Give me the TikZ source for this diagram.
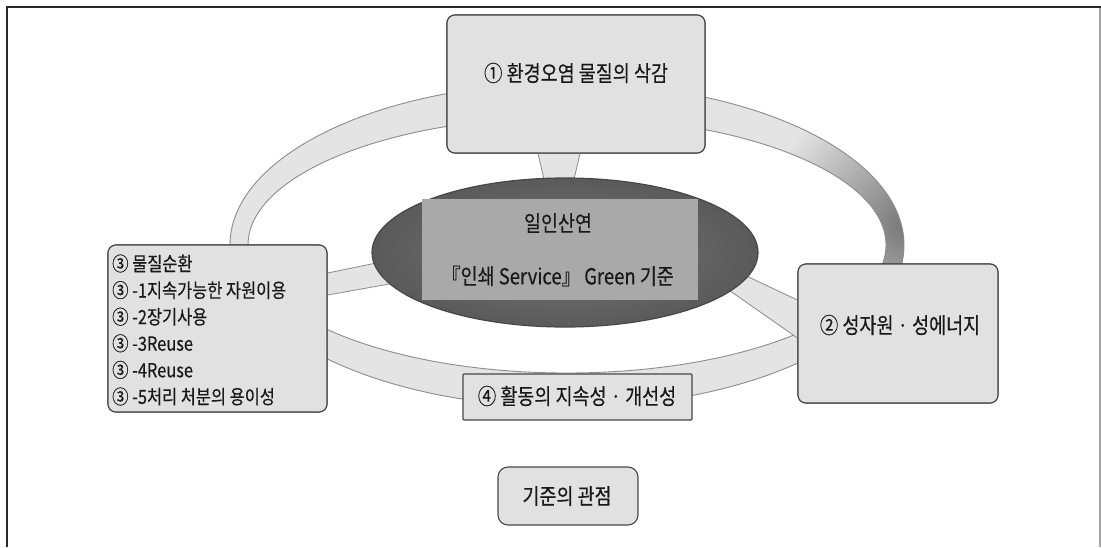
\documentclass[tikz,border=0pt]{standalone}
\usepackage{fontspec}
\newfontfamily\kr[FakeStretch=0.84,FakeBold=0.3]{Noto Sans CJK KR}
\usetikzlibrary{shapes.geometric,calc}
\definecolor{boxfill}{HTML}{E1E1E1}
\definecolor{ringfill}{HTML}{E4E4E4}
\definecolor{ringdark}{HTML}{777777}
\definecolor{ringedge}{HTML}{8C8C8C}
\definecolor{ellfill}{HTML}{5A5A5A}
\definecolor{ellfill2}{HTML}{767676}
\definecolor{midrect}{HTML}{A9A9A9}
\definecolor{framecol}{HTML}{2A2A2A}
\begin{document}
\begin{tikzpicture}[x=1pt,y=-1pt,
  box/.style={draw=black!72, line width=1.1pt, fill=boxfill, rounded corners=8pt, inner sep=0pt},
  lbl/.style={font=\kr\fontsize{22}{26}\selectfont, text=black!90, inner sep=0pt},
  small/.style={font=\kr\fontsize{19.5}{26.6}\selectfont, text=black!90, inner sep=0pt},
  spoke/.style={fill=ringfill, draw=ringedge, line width=0.8pt},
]
\useasboundingbox (0,0) rectangle (1101,547);
\fill[white] (0,0) rectangle (1101,547);
% frame
\draw[framecol, line width=2pt] (7,547) -- (7,7) -- (1101,7);
\draw[black!35, line width=1.5pt] (1100,8) -- (1100,547);

% ring
\fill[ringfill] (567,245) ellipse [x radius=337, y radius=162];
\begin{scope}
  \clip (567,245) ellipse [x radius=337, y radius=162];
  \shade[inner color=ringdark, outer color=ringfill] (905,225) circle (140);
\end{scope}
\fill[white] (567,245) ellipse [x radius=319, y radius=128];
\draw[ringedge, line width=0.9pt] (567,245) ellipse [x radius=337, y radius=162];
\draw[ringedge, line width=0.9pt] (567,245) ellipse [x radius=319, y radius=128];

% nodes (shapes)
\node[ellipse, minimum width=386, minimum height=149, inner sep=0pt] (ell) at (565,252.5) {};
\node[box, minimum width=258, minimum height=138] (b1) at (576,84) {};
\node[box, minimum width=219, minimum height=167] (b3) at (217.5,328.5) {};
\node[box, minimum width=200, minimum height=139] (b2) at (898,333.5) {};

% spokes
\path[spoke] ($(b1.south)+(-38,0)$) -- ($(b1.south)+(4,0)$) -- ($(ell.north)+(7,10)$) -- ($(ell.north)+(-19,10)$) -- cycle;
\path[spoke] ($(b3.east)+(0,-55.5)$) -- ($(b3.east)+(73,-70.5)$) -- ($(b3.east)+(73,-46.5)$) -- ($(b3.east)+(0,-33.5)$) -- cycle;
\path[spoke] ($(b2.west)+(-68,-65.5)$) -- ($(b2.west)+(0,-33.5)$) -- ($(b2.west)+(0,4.5)$) -- ($(b2.west)+(-83,-53.5)$) -- cycle;

% central ellipse
\shade[inner color=ellfill2, outer color=ellfill] (ell.center) ellipse [x radius=193, y radius=74.5];
\draw[black!72, line width=1.2pt] (ell.center) ellipse [x radius=193, y radius=74.5];
\node[fill=midrect, minimum width=276, minimum height=101, inner sep=0pt] (mid) at (560,249.5) {};
\node[lbl] (t0a) at (558,223) {일인산연};
\node[lbl] (t0b) at (558,276) {『인쇄 Service』 Green 기준};

% boxes on top
\node[box, minimum width=258, minimum height=138] at (b1.center) {};
\node[lbl] (t1) at (576,73) {① 환경오염 물질의 삭감};

\node[box, minimum width=219, minimum height=167] at (b3.center) {};
\node[small, align=left, anchor=west] (t3) at (112,330) {③ 물질순환\\③ -1지속가능한 자원이용\\③ -2장기사용\\③ -3Reuse\\③ -4Reuse\\③ -5처리 처분의 용이성};

\node[box, minimum width=200, minimum height=139] at (b2.center) {};
\node[lbl] (t2) at (900,325) {② 성자원 · 성에너지};

\node[box, rounded corners=1pt, minimum width=229, minimum height=46] (b4) at (577.5,397) {};
\node[lbl] (t4) at (577,396) {④ 활동의 지속성 · 개선성};

\node[box, rounded corners=10pt, minimum width=140, minimum height=58] (b5) at (568,496) {};
\node[lbl] (t5) at (567,496) {기준의 관점};
\end{tikzpicture}
\end{document}
